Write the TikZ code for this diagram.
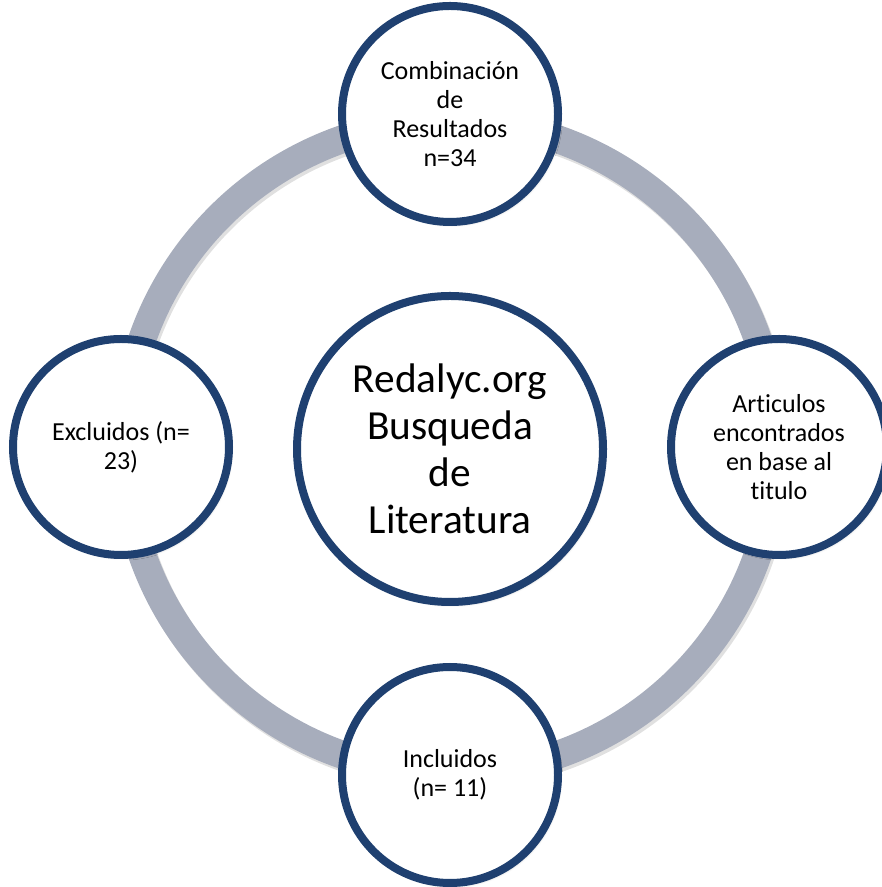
\documentclass[tikz,border=0pt]{standalone}
\usepackage{fontspec}
\setmainfont{Carlito}[Ligatures=NoCommon]
\usetikzlibrary{shadows.blur}
\definecolor{cycleblue}{HTML}{1F4070}
\definecolor{cyclegray}{HTML}{A7ADBC}

\begin{document}
\begin{tikzpicture}[x=0.75pt,y=0.75pt,
  stage/.style={circle,draw=cycleblue,line width=6pt,fill=white,
   minimum size=162pt,inner sep=0pt,align=center,
   font=\fontsize{19.5}{21.75}\selectfont,
   blur shadow={shadow xshift=1.5pt,shadow yshift=-2pt,
    shadow blur steps=6,shadow opacity=25}},
  hub/.style={stage,minimum size=229.5pt,
   font=\fontsize{31}{35.25}\selectfont}]
 \useasboundingbox (0,0) rectangle (881,887);
 \coordinate (ringc) at (450,440);
 \draw[line width=21pt,black!12] ([shift={(2,-3)}]ringc) circle (326);
 \draw[line width=21pt,cyclegray] (ringc) circle (326);
 \node[stage] (combi) at (450,773) {Combinación\\de\\Resultados\\n=34};
 \node[stage] (artic) at (779,440) {Articulos\\encontrados\\en base al\\titulo};
 \node[stage] (inclu) at (450,112) {Incluidos\\(n= 11)};
 \node[stage] (exclu) at (121,440) {Excluidos (n=\\23)};
 \node[hub] (redal) at (450,438) {Redalyc.org\\Busqueda\\de\\Literatura};
\end{tikzpicture}
\end{document}
